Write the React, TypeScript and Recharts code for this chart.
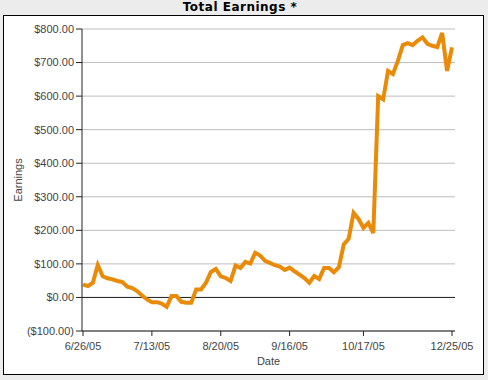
import React from 'react';
import { LineChart, Line, XAxis, YAxis, CartesianGrid, ReferenceLine } from 'recharts';

const earnings: number[] = [
  38, 34, 44, 97, 63, 57, 54, 49, 46, 32,
  28, 19, 6, -6, -14, -14, -18, -28, 4, 4,
  -13, -16, -16, 24, 24, 44, 76, 85, 63, 58,
  49, 95, 88, 106, 101, 133, 125, 109, 103, 96,
  92, 82, 89, 78, 68, 58, 44, 64, 55, 88,
  88, 75, 90, 158, 175, 252, 234, 207, 222, 192,
  600, 590, 675, 666, 705, 752, 758, 752, 765, 775,
  756, 750, 746, 788, 675, 745,
];

const dateTickIndex: number[] = [0, 14, 28, 42, 57, 75];
const dateTickLabels: string[] = ['6/26/05', '7/13/05', '8/20/05', '9/16/05', '10/17/05', '12/25/05'];
const earningsTicks: number[] = [-100, 0, 100, 200, 300, 400, 500, 600, 700, 800];

const data = earnings.map((v, i) => ({ idx: i, value: v }));

const fmtMoney = (v: number) =>
  v < 0 ? `($${Math.abs(v).toFixed(2)})` : `$${v.toFixed(2)}`;

const fmtDate = (v: number) => {
  const k = dateTickIndex.indexOf(v);
  return k >= 0 ? dateTickLabels[k] : '';
};

const tickStyle = { fontSize: 11, fill: '#444', fontFamily: '"Liberation Sans", Arial, sans-serif' };

export default function App() {
  return (
    <div style={{ position: 'absolute', left: 0, top: 0, width: 488, height: 380, background: '#ececec', overflow: 'hidden' }}>
      <div style={{ position: 'absolute', left: 0, top: 0, width: 480, textAlign: 'center', fontFamily: '"DejaVu Sans", sans-serif', fontWeight: 'bold', fontSize: 12, letterSpacing: 0.5, lineHeight: '15px', color: '#000' }}>
        Total Earnings *
      </div>
      <div style={{ position: 'absolute', left: 3, top: 15, width: 479, height: 358, background: '#fff', border: '1px solid #000' }} />
      <div style={{ position: 'absolute', left: 0, top: 0 }}>
        <LineChart width={488} height={380} data={data} margin={{ top: 29, right: 33, bottom: 11, left: 12 }}>
          <CartesianGrid vertical={false} stroke="#bdbdbd" />
          <XAxis
            dataKey="idx"
            type="number"
            domain={[0, 75]}
            ticks={dateTickIndex}
            tickFormatter={fmtDate}
            interval={0}
            padding={{ left: 1, right: 3 }}
            height={38}
            tickSize={5}
            tickMargin={6}
            tick={tickStyle}
            stroke="#222"
            axisLine={{ stroke: '#222' }}
            tickLine={{ stroke: '#222' }}
            label={{ value: 'Date', position: 'insideBottom', offset: 4, style: { fontSize: 11, fill: '#444', fontFamily: '"Liberation Sans", Arial, sans-serif' } }}
          />
          <XAxis xAxisId="top" orientation="top" dataKey="idx" type="number" domain={[0, 75]} height={0} tick={false} tickLine={false} axisLine={{ stroke: '#222' }} />
          <YAxis
            type="number"
            domain={[-100, 800]}
            ticks={earningsTicks}
            tickFormatter={fmtMoney}
            interval={0}
            width={70}
            tickSize={6}
            tickMargin={2}
            tick={tickStyle}
            axisLine={{ stroke: '#222' }}
            tickLine={{ stroke: '#222' }}
            label={{ value: 'Earnings', angle: -90, position: 'insideLeft', offset: 6, style: { textAnchor: 'middle', fontSize: 11, fill: '#444', fontFamily: '"Liberation Sans", Arial, sans-serif' } }}
          />
          <YAxis yAxisId="right" orientation="right" type="number" domain={[-100, 800]} width={0} tick={false} tickLine={false} axisLine={{ stroke: '#222' }} />
          <ReferenceLine y={0} stroke="#222" strokeWidth={1} />
          <Line
            type="linear"
            dataKey="value"
            stroke="#e98a08"
            strokeWidth={4}
            dot={false}
            isAnimationActive={false}
          />
        </LineChart>
      </div>
    </div>
  );
}
